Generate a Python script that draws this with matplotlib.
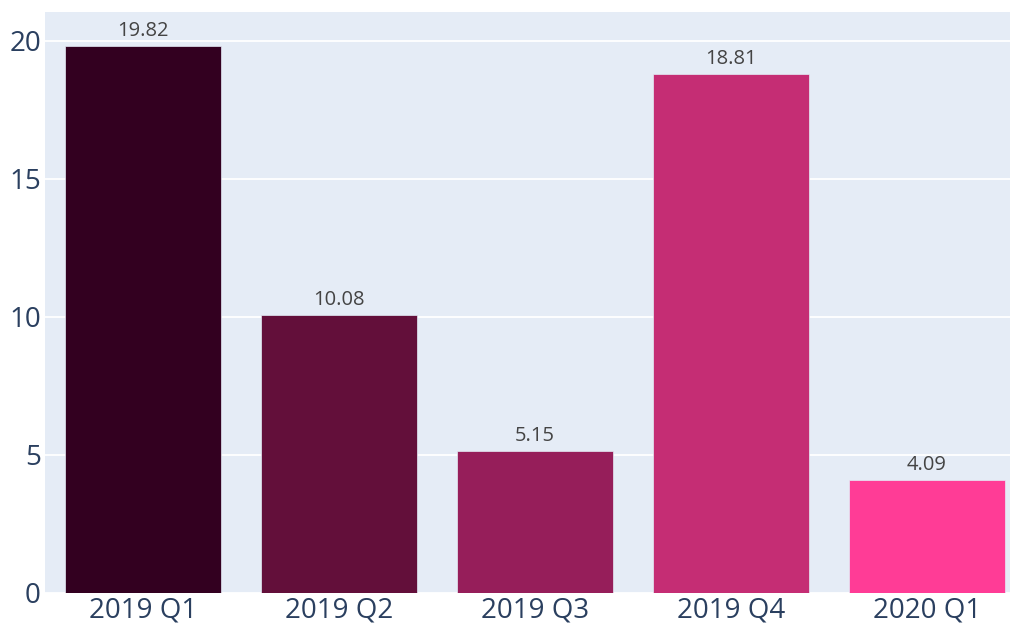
import matplotlib.pyplot as plt

# Datos
quarters = ['2019 Q1', '2019 Q2', '2019 Q3', '2019 Q4', '2020 Q1']
values = [19.82, 10.08, 5.15, 18.81, 4.09]
colors = ['#330020', '#630F3A', '#961E5A', '#C52D74', '#FF3C96']

plt.rcParams['font.family'] = ['Open Sans', 'DejaVu Sans']

fig = plt.figure(figsize=(10.1, 6.29), dpi=100)
ax = fig.add_axes([0.0446, 0.0577, 0.9703, 0.9233])
ax.set_facecolor('#E5ECF6')

x = range(len(quarters))
bars = ax.bar(x, values, width=0.8, color=colors, edgecolor='#E5ECF6', linewidth=0.5, zorder=3)
for b, v in zip(bars, values):
    ax.text(b.get_x() + b.get_width() / 2, v + 0.18, f'{v:.2f}', ha='center', va='bottom',
            fontsize=14.5, color='#444444', zorder=4)

ax.set_xlim(-0.5, len(quarters) - 0.5)
ax.set_ylim(0, 21.05)
ax.set_yticks([0, 5, 10, 15, 20])
ax.set_xticks(list(x))
ax.set_xticklabels(quarters)
ax.grid(axis='y', color='white', linewidth=1.3, zorder=0)
ax.tick_params(length=0, labelsize=20, labelcolor='#2a3f5f', pad=3)
ax.tick_params(axis='y', pad=3)
for s in ax.spines.values():
    s.set_visible(False)

plt.savefig('out.png', dpi=100)
